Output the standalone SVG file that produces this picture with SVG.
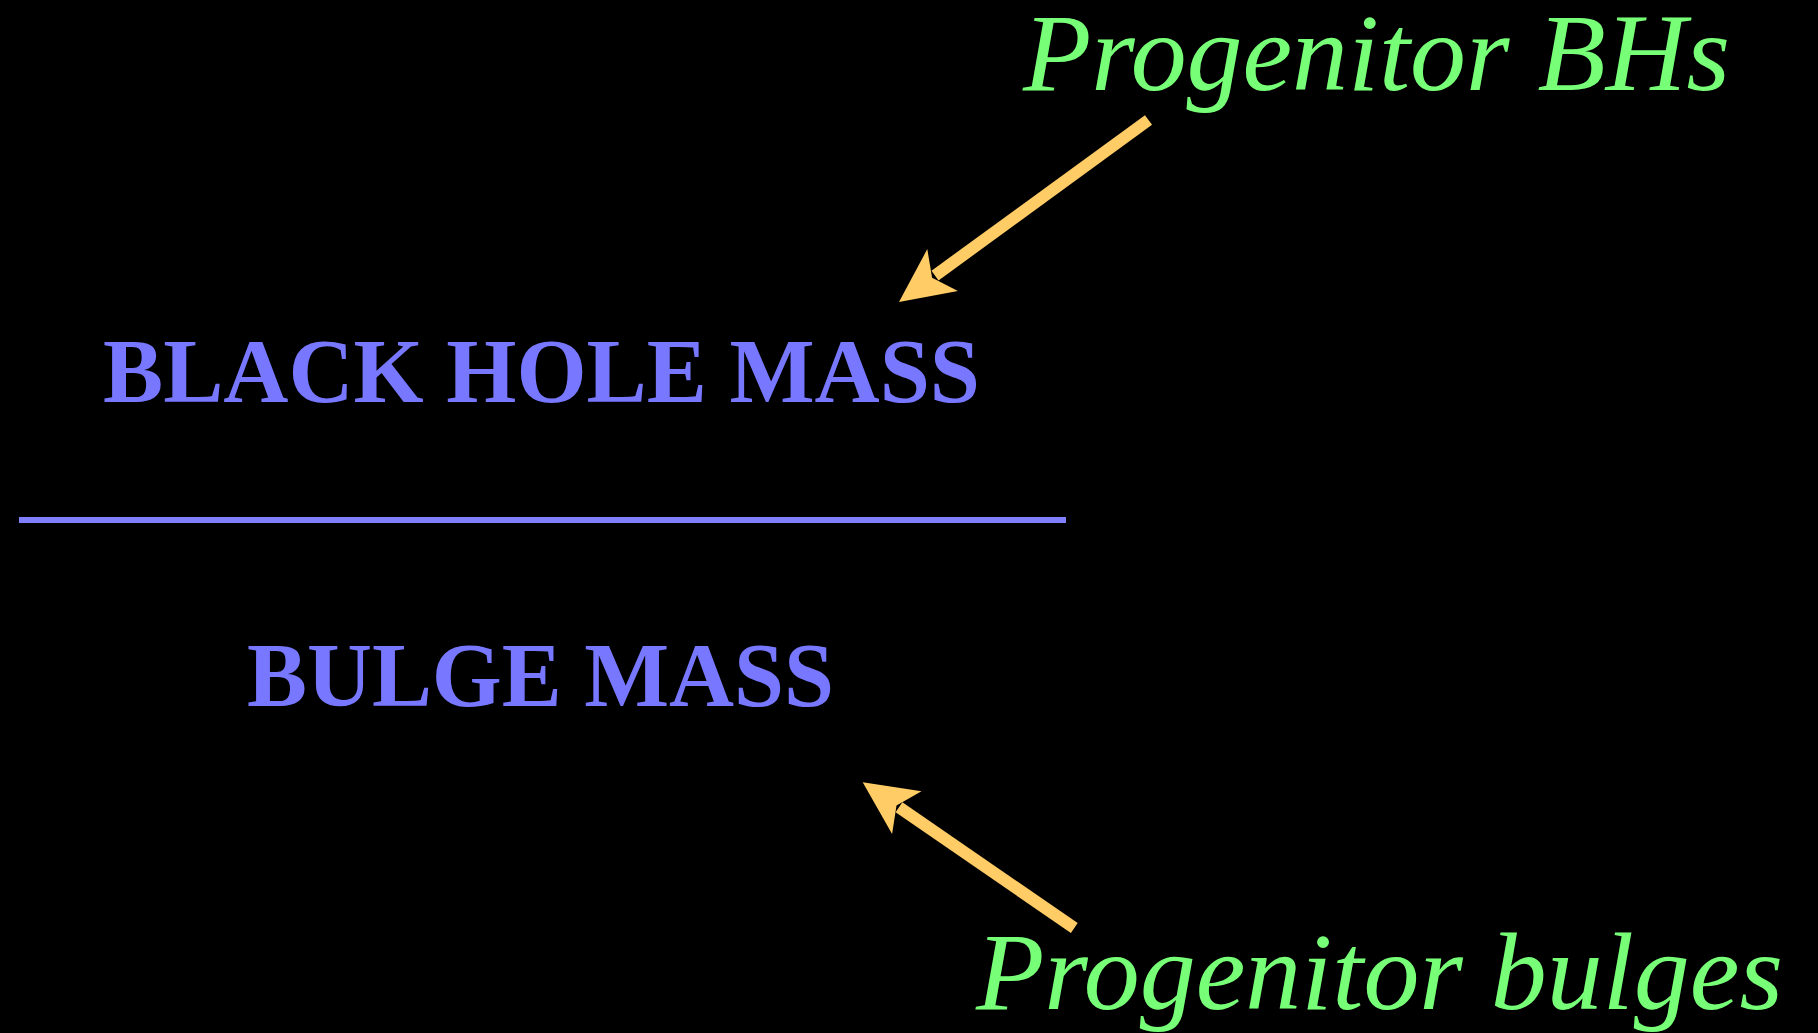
<svg xmlns="http://www.w3.org/2000/svg" width="1818" height="1033" viewBox="0 0 1818 1033">
<style>
.lbl{font-family:"Liberation Serif","Times New Roman",serif;font-style:italic;font-size:110px;fill:#77ff77}
.mass{font-family:"Liberation Serif","Times New Roman",serif;font-weight:bold;font-size:92px;fill:#7777ff}
.shaft{stroke:#ffcc66;stroke-width:12;fill:none}
.head{fill:#ffcc66}
</style>
<rect x="0" y="0" width="1818" height="1033" fill="#000000"/>
<g id="progenitor-bhs"><text class="lbl" x="1023" y="90" textLength="707" lengthAdjust="spacingAndGlyphs">Progenitor BHs</text></g>
<g id="black-hole-mass"><text class="mass" x="103" y="402" textLength="877" lengthAdjust="spacingAndGlyphs">BLACK HOLE MASS</text></g>
<g id="fraction-line"><rect x="19" y="517" width="1047" height="6" fill="#8080ff"/></g>
<g id="bulge-mass"><text class="mass" x="247" y="706" textLength="587" lengthAdjust="spacingAndGlyphs">BULGE MASS</text></g>
<g id="progenitor-bulges"><text class="lbl" x="976" y="1009" textLength="807" lengthAdjust="spacingAndGlyphs">Progenitor bulges</text></g>
<g id="connectors">
<line class="shaft" x1="1148.5" y1="120" x2="935" y2="275.6"/>
<polygon class="head" points="899,302 927.3,249.1 932.1,277.8 957.9,291.1"/>
<line class="shaft" x1="1074.3" y1="928" x2="899" y2="807.3"/>
<polygon class="head" points="862.7,782.3 921.5,791.2 896.5,805.6 892.1,834"/>
</g>
</svg>
